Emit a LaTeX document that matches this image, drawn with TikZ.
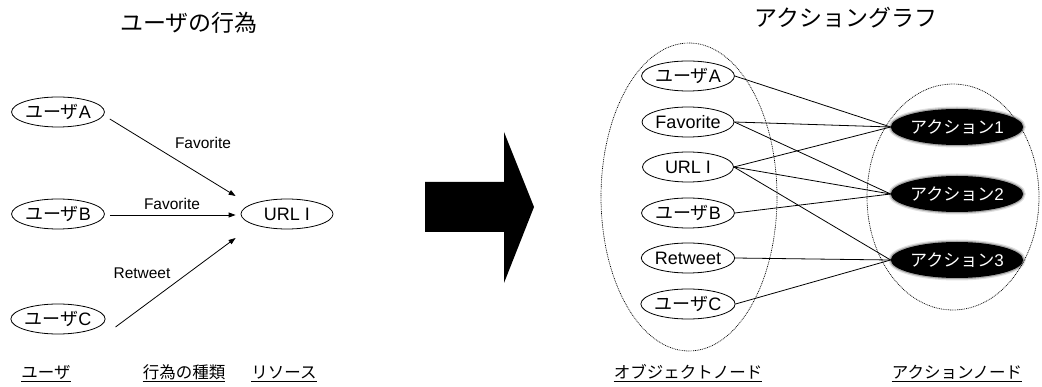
\documentclass[tikz,border=0pt]{standalone}
\usepackage{fontspec}
\setmainfont{Liberation Sans}
\newfontfamily\jp{Noto Sans CJK JP}
\usetikzlibrary{shapes.geometric,arrows.meta,calc}
\tikzset{
  obj/.style={ellipse,draw,line width=0.8pt,fill=white,inner sep=0pt,minimum width=92pt,minimum height=30pt,font=\fontsize{18}{20}\selectfont},
  act/.style={ellipse,fill=black,text=white,inner sep=0pt,minimum width=122pt,minimum height=36pt,font=\fontsize{17}{20}\selectfont,
    preaction={draw=black,draw opacity=0.12,line width=5pt},
    preaction={draw=black,draw opacity=0.25,line width=2.5pt}},
  group/.style={ellipse,draw,line width=0.7pt,dash pattern=on 0.9pt off 0.9pt,inner sep=0pt},
  lbl/.style={font=\fontsize{15.5}{18}\selectfont,inner sep=0pt},
  ttl/.style={font=\jp\fontsize{23}{26}\selectfont,inner sep=0pt},
  foot/.style={font=\jp\fontsize{16.5}{19}\selectfont,inner sep=0pt,anchor=base},
  edge/.style={line width=0.8pt},
  arr/.style={line width=0.8pt,-{Triangle[length=7pt,width=5pt]}},
  uline/.style={line width=0.8pt}
}
\begin{document}
\begin{tikzpicture}[x=1pt,y=-1pt]
\useasboundingbox (0,0) rectangle (1042,387);
% titles
\node[ttl] (t1) at (189,23) {ユーザの行為};
\node[ttl] (t2) at (846,18) {アクショングラフ};
% left graph
\node[obj] (ua) at (58,112) {{\jp ユーザ}A};
\node[obj] (ub) at (58,214) {{\jp ユーザ}B};
\node[obj] (uc) at (58,319) {{\jp ユーザ}C};
\node[obj] (url) at (287,214) {URL I};
\draw[arr] ($(ua.east)+(5,7)$) -- ($(url.west)+(-5,-18)$);
\draw[arr] ($(ub.east)+(5,1)$) -- ($(url.west)+(-5,1)$);
\draw[arr] ($(uc.east)+(10,8)$) -- ($(url.west)+(-5,24)$);
\node[lbl] (l1) at (203,143) {Favorite};
\node[lbl] (l2) at (172,204) {Favorite};
\node[lbl] (l3) at (142,273) {Retweet};
% big arrow
\fill (425,182) -- (504,182) -- (504,132) -- (534,207) -- (504,283) -- (504,232) -- (425,232) -- cycle;
% right graph
\node[group,minimum width=176pt,minimum height=308pt] (gl) at (689,197) {};
\node[group,minimum width=172pt,minimum height=226pt] (gr) at (953,197) {};
\node[obj,minimum width=91pt] (oa) at (688,76) {{\jp ユーザ}A};
\node[obj,minimum width=91pt] (of) at (688,122) {Favorite};
\node[obj,minimum width=91pt] (ourl) at (688,167) {URL I};
\node[obj,minimum width=91pt] (ob) at (688,213) {{\jp ユーザ}B};
\node[obj,minimum width=91pt] (ort) at (688,258) {Retweet};
\node[obj,minimum width=91pt] (oc) at (688,304) {{\jp ユーザ}C};
\node[act] (a1) at (957,127) {{\jp アクション}1};
\node[act] (a2) at (957,194) {{\jp アクション}2};
\node[act] (a3) at (957,260) {{\jp アクション}3};
\draw[edge] (oa.east) -- (a1.west);
\draw[edge] (of.east) -- (a1.west);
\draw[edge] (of.east) -- (a2.west);
\draw[edge] (ourl.east) -- (a1.west);
\draw[edge] (ourl.east) -- (a2.west);
\draw[edge] (ourl.east) -- (a3.west);
\draw[edge] (ob.east) -- (a2.west);
\draw[edge] (ort.east) -- (a3.west);
\draw[edge] (oc.east) -- (a3.west);
% footers
\node[foot] (f1) at (46,378) {ユーザ};
\node[foot] (f2) at (184,378) {行為の種類};
\node[foot] (f3) at (284,378) {リソース};
\node[foot] (f4) at (688,378) {オブジェクトノード};
\node[foot] (f5) at (957,378) {アクションノード};
\foreach \n in {f1,f2,f3,f4,f5}{
  \draw[uline] ([yshift=-3.5pt]\n.base west) -- ([yshift=-3.5pt]\n.base east);
}
\end{tikzpicture}
\end{document}
